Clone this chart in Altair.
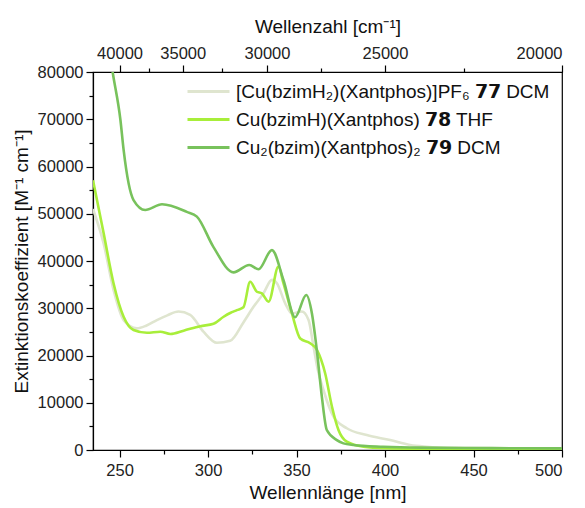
import altair as alt
import pandas as pd

# ---- data ----
series_names = [
    "[Cu(bzimH₂)(Xantphos)]PF₆ 𝟳𝟳 DCM",
    "Cu(bzimH)(Xantphos) 𝟳𝟴 THF",
    "Cu₂(bzim)(Xantphos)₂ 𝟳𝟵 DCM",
]
series_colors = ["#dfe5cf", "#a8ee3a", "#78c25c"]

wl_77 = [235, 241, 246.6, 252.3, 259.8, 265, 271.1, 277, 283.3, 289.9, 297.4, 305, 312.5, 320,
         325.7, 331.3, 336.1, 338.9, 343.6, 347.4, 353, 356.8, 359.6, 362, 365.2, 370.9, 378.4,
         389.7, 402.9, 414.2, 423.6, 440, 470, 500]
eps_77 = [51000, 43700, 33900, 27500, 25750, 26300, 27500, 28500, 29300, 28600, 25050, 22700,
          23100, 27000, 30300, 33150, 36000, 35300, 31050, 28900, 29300, 27500, 21900, 17000,
          12700, 7050, 4600, 3170, 2100, 1060, 700, 450, 350, 300]

wl_78 = [235, 241, 246.6, 252.3, 257.9, 265.5, 273, 278.7, 286.2, 295.6, 303.1, 308.8, 312.5,
         316.3, 320, 323.8, 327.6, 330.4, 334.2, 339.8, 342.6, 347.4, 352.1, 357.7, 361.5, 366.2,
         370, 373.7, 378.4, 387.8, 400, 420, 460, 500]
eps_78 = [57100, 45900, 35300, 28200, 25400, 24800, 25040, 24550, 25250, 26200, 26700, 28200,
          29000, 29600, 30200, 35600, 33500, 33150, 31400, 38800, 35300, 28900, 23600, 22600,
          21200, 16200, 9200, 4230, 1760, 700, 400, 300, 250, 200]

wl_79 = [235, 240, 246.1, 250.5, 252.3, 257.9, 264.5, 274, 288, 293.7, 303, 314.4, 323.3,
         328.5, 336.1, 342.6, 349.2, 355.5, 358.7, 361.5, 364.3, 367.1, 372.8, 376.5, 382, 399,
         420, 460, 500]
eps_79 = [110000, 96000, 80000, 69840, 63500, 52900, 50800, 52000, 50400, 49400, 43000, 37600,
          39150, 38240, 42300, 36000, 28100, 32800, 28900, 21000, 11300, 4230, 2100, 1400, 1060,
          700, 500, 400, 350]

# tick values
x_ticks = [250, 275, 300, 325, 350, 375, 400, 425, 450, 475, 500]
y_ticks = [0, 5000, 10000, 15000, 20000, 25000, 30000, 35000, 40000, 45000, 50000, 55000,
           60000, 65000, 70000, 75000, 80000]
wavenumber_ticks = [40000, 37500, 35000, 32500, 30000, 27500, 25000, 22500, 20000]
wavenumber_positions_nm = [1e7 / w for w in wavenumber_ticks]

rows = []
for name, wl, eps in zip(series_names, [wl_77, wl_78, wl_79], [eps_77, eps_78, eps_79]):
    for w, e in zip(wl, eps):
        rows.append({"series": name, "wl": w, "eps": e})
df = pd.DataFrame(rows)

FONT = "Liberation Sans"
x_scale = alt.Scale(domain=[235, 500], nice=False, zero=False)
y_scale = alt.Scale(domain=[0, 80000], nice=False)

lines = alt.Chart(df).mark_line(strokeWidth=2.6, clip=True, interpolate="monotone").encode(
    x=alt.X("wl:Q", scale=x_scale,
            axis=alt.Axis(
                title="Wellennlänge [nm]",
                values=x_ticks,
                labelExpr="datum.value % 50 == 0 ? datum.label : ''",
                tickSize={"condition": {"test": "datum.value % 50 != 0", "value": 4}, "value": 7},
                labelOverlap=False,
                labelPadding=5,
                titlePadding=5,
                grid=False,
            )),
    y=alt.Y("eps:Q", scale=y_scale,
            axis=alt.Axis(
                title="Extinktionskoeffizient [M⁻¹ cm⁻¹]",
                values=y_ticks,
                format="d",
                labelExpr="datum.value % 10000 == 0 ? datum.label : ''",
                tickSize={"condition": {"test": "datum.value % 10000 != 0", "value": 4}, "value": 7},
                labelOverlap=False,
                labelPadding=3,
                titlePadding=6,
                grid=False,
            )),
    color=alt.Color("series:N", sort=series_names,
                    scale=alt.Scale(domain=series_names, range=series_colors),
                    legend=alt.Legend(
                        title=None,
                        orient="none",
                        legendX=106,
                        legendY=10,
                        symbolType="M-3,0H3",
                        symbolSize=196,
                        symbolStrokeWidth=3,
                        labelOffset=18,
                        rowPadding=8,
                        padding=0,
                        labelFontSize=19,
                        labelFont=FONT,
                        labelColor="#111",
                        labelLimit=400,
                    )),
    order=alt.Order("wl:Q"),
    detail="series:N",
)

top_axis = alt.Chart(df).mark_line(opacity=0).encode(
    x=alt.X("wl:Q", scale=x_scale,
            axis=alt.Axis(
                orient="top",
                title="Wellenzahl [cm⁻¹]",
                values=wavenumber_positions_nm,
                labelExpr="round(1e7 / datum.value) % 5000 == 0 ? format(round(1e7 / datum.value), 'd') : ''",
                tickSize={"condition": {"test": "round(1e7 / datum.value) % 5000 != 0", "value": 4}, "value": 7},
                labelOverlap=False,
                labelPadding=4,
                titlePadding=9,
                grid=False,
            )),
    y=alt.Y("eps:Q", scale=y_scale, axis=None),
    detail="series:N",
)

chart = alt.layer(lines, top_axis).resolve_axis(x="independent", y="independent").properties(
    width=469,
    height=378,
    autosize=alt.AutoSizeParams(type="none"),
    padding={"left": 85, "top": 64, "right": 15, "bottom": 58},
).configure_view(
    stroke="#000", strokeWidth=1.2
).configure_axis(
    labelFont=FONT, titleFont=FONT,
    labelFontSize=16.5, titleFontSize=19,
    labelColor="#222", titleColor="#111",
    titleFontWeight="normal",
    domainColor="#000", tickColor="#000", domainWidth=1.2, tickWidth=1.2,
)

chart.save("out.html", embed_options={"renderer": "svg", "actions": False})
